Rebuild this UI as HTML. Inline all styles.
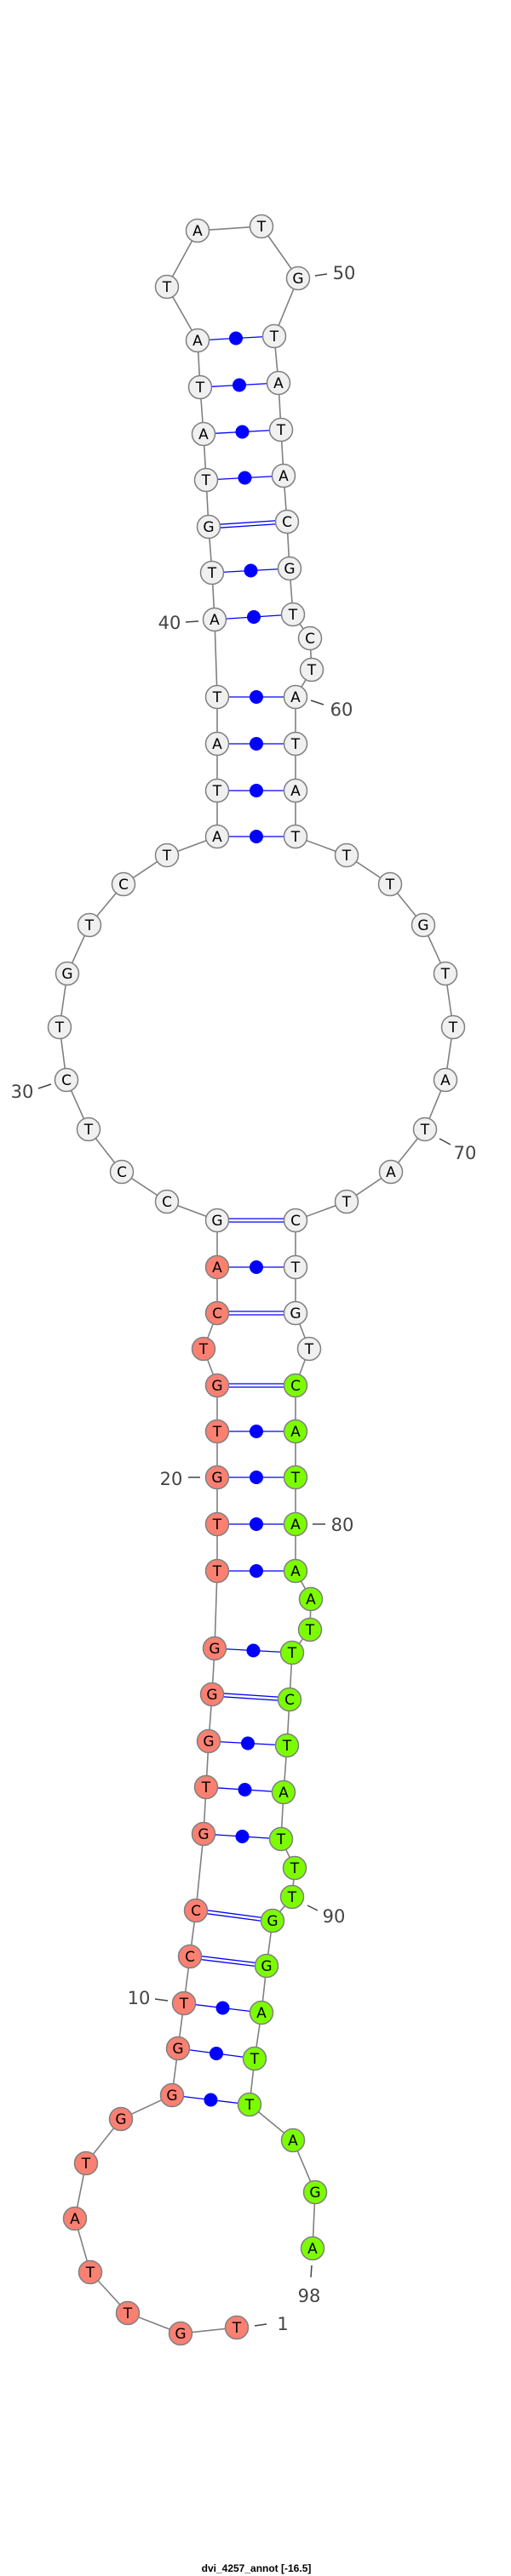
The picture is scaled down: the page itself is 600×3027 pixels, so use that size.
<!DOCTYPE html>
<html><head><meta charset="utf-8"><style>
html,body{margin:0;padding:0;background:#fff;}
svg{display:block;}
.n{stroke:#808080;stroke-width:1.5;}
.w{fill:#f0f0f0;}
.r{fill:#fa8072;}
.g{fill:#7cfc00;}
.t{font-family:"DejaVu Sans","Liberation Sans",sans-serif;font-size:17px;text-anchor:middle;fill:#000;}
.l{font-family:"DejaVu Sans","Liberation Sans",sans-serif;font-size:21px;text-anchor:middle;fill:#444;}
.p{stroke:#0000ff;stroke-width:1.3;fill:none;}
.d{fill:#0000ff;}
.k{stroke:#444;stroke-width:1.5;}
</style></head><body>
<svg width="600" height="3027" viewBox="0 0 600 3027" xmlns="http://www.w3.org/2000/svg">
<polyline fill="none" stroke="#808080" stroke-width="1.6" points="278,2735 212,2742 150,2718 106,2670 88,2607 101,2542 142,2490 202,2462 209,2407 216,2354 223,2299 230,2245 239,2155 242,2100 245,2046 249,1991 252,1937 255,1846 255,1791 255,1736 255,1682 255,1628 239,1585 255,1543 255,1489 255,1434 196,1412 143,1377 104,1327 78,1269 70,1207 79,1144 105,1087 145,1039 196,1005 255,983 255,929 255,874 255,819 252,728 249,673 245,619 242,564 239,510 235,455 232,400 196,337 232,271 307,266 350,327 322,395 327,450 330,505 333,559 337,613 340,668 344,722 364,750 366,787 347,819 347,874 347,929 347,983 407,1005 458,1039 497,1087 523,1144 532,1207 523,1269 499,1327 459,1377 407,1412 347,1434 347,1489 347,1543 363,1585 347,1628 347,1682 347,1736 347,1791 347,1846 365,1879 364,1915 343,1942 340,1997 337,2051 333,2106 330,2161 346,2195 343,2229 320,2257 313,2310 307,2365 299,2419 293,2473 344,2515 370,2576 367,2642"/>
<!-- single pairs -->
<g class="p">
<line x1="202" y1="2462" x2="293" y2="2473"/>
<line x1="209" y1="2407" x2="299" y2="2419"/>
<line x1="216" y1="2354" x2="307" y2="2365"/>
<line x1="239" y1="2155" x2="330" y2="2161"/>
<line x1="242" y1="2100" x2="333" y2="2106"/>
<line x1="245" y1="2046" x2="337" y2="2051"/>
<line x1="252" y1="1937" x2="343" y2="1942"/>
<line x1="255" y1="1846" x2="347" y2="1846"/>
<line x1="255" y1="1791" x2="347" y2="1791"/>
<line x1="255" y1="1736" x2="347" y2="1736"/>
<line x1="255" y1="1682" x2="347" y2="1682"/>
<line x1="255" y1="1489" x2="347" y2="1489"/>
<line x1="255" y1="983" x2="347" y2="983"/>
<line x1="255" y1="929" x2="347" y2="929"/>
<line x1="255" y1="874" x2="347" y2="874"/>
<line x1="255" y1="819" x2="347" y2="819"/>
<line x1="252" y1="728" x2="344" y2="722"/>
<line x1="249" y1="673" x2="340" y2="668"/>
<line x1="242" y1="564" x2="333" y2="559"/>
<line x1="239" y1="510" x2="330" y2="505"/>
<line x1="235" y1="455" x2="327" y2="450"/>
<line x1="232" y1="400" x2="322" y2="395"/>
<!-- double pairs -->
<line x1="223" y1="2297" x2="313" y2="2308"/><line x1="223" y1="2301" x2="313" y2="2312"/>
<line x1="230" y1="2243" x2="320" y2="2255"/><line x1="230" y1="2247" x2="320" y2="2259"/>
<line x1="249" y1="1989" x2="340" y2="1995"/><line x1="249" y1="1993" x2="340" y2="1999"/>
<line x1="255" y1="1626" x2="347" y2="1626"/><line x1="255" y1="1630" x2="347" y2="1630"/>
<line x1="255" y1="1541" x2="347" y2="1541"/><line x1="255" y1="1545" x2="347" y2="1545"/>
<line x1="255" y1="1432" x2="347" y2="1432"/><line x1="255" y1="1436" x2="347" y2="1436"/>
<line x1="245" y1="617" x2="337" y2="611"/><line x1="245" y1="621" x2="337" y2="615"/>
</g>
<g class="d">
<circle cx="247.5" cy="2467.5" r="8"/>
<circle cx="254" cy="2413" r="8"/>
<circle cx="261.5" cy="2359.5" r="8"/>
<circle cx="284.5" cy="2158" r="8"/>
<circle cx="287.5" cy="2103" r="8"/>
<circle cx="291" cy="2048.5" r="8"/>
<circle cx="297.5" cy="1939.5" r="8"/>
<circle cx="301" cy="1846" r="8"/>
<circle cx="301" cy="1791" r="8"/>
<circle cx="301" cy="1736" r="8"/>
<circle cx="301" cy="1682" r="8"/>
<circle cx="301" cy="1489" r="8"/>
<circle cx="301" cy="983" r="8"/>
<circle cx="301" cy="929" r="8"/>
<circle cx="301" cy="874" r="8"/>
<circle cx="301" cy="819" r="8"/>
<circle cx="298" cy="725" r="8"/>
<circle cx="294.5" cy="670.5" r="8"/>
<circle cx="287.5" cy="561.5" r="8"/>
<circle cx="284.5" cy="507.5" r="8"/>
<circle cx="281" cy="452.5" r="8"/>
<circle cx="277" cy="397.5" r="8"/>
</g>
<!-- nodes -->
<g class="n">
<circle class="r" cx="278" cy="2735" r="13.5"/><circle class="r" cx="212" cy="2742" r="13.5"/><circle class="r" cx="150" cy="2718" r="13.5"/><circle class="r" cx="106" cy="2670" r="13.5"/><circle class="r" cx="88" cy="2607" r="13.5"/><circle class="r" cx="101" cy="2542" r="13.5"/><circle class="r" cx="142" cy="2490" r="13.5"/><circle class="r" cx="202" cy="2462" r="13.5"/><circle class="r" cx="209" cy="2407" r="13.5"/><circle class="r" cx="216" cy="2354" r="13.5"/><circle class="r" cx="223" cy="2299" r="13.5"/><circle class="r" cx="230" cy="2245" r="13.5"/><circle class="r" cx="239" cy="2155" r="13.5"/><circle class="r" cx="242" cy="2100" r="13.5"/><circle class="r" cx="245" cy="2046" r="13.5"/><circle class="r" cx="249" cy="1991" r="13.5"/><circle class="r" cx="252" cy="1937" r="13.5"/><circle class="r" cx="255" cy="1846" r="13.5"/><circle class="r" cx="255" cy="1791" r="13.5"/><circle class="r" cx="255" cy="1736" r="13.5"/><circle class="r" cx="255" cy="1682" r="13.5"/><circle class="r" cx="255" cy="1628" r="13.5"/><circle class="r" cx="239" cy="1585" r="13.5"/><circle class="r" cx="255" cy="1543" r="13.5"/><circle class="r" cx="255" cy="1489" r="13.5"/>
<circle class="w" cx="255" cy="1434" r="13.5"/><circle class="w" cx="196" cy="1412" r="13.5"/><circle class="w" cx="143" cy="1377" r="13.5"/><circle class="w" cx="104" cy="1327" r="13.5"/><circle class="w" cx="78" cy="1269" r="13.5"/><circle class="w" cx="70" cy="1207" r="13.5"/><circle class="w" cx="79" cy="1144" r="13.5"/><circle class="w" cx="105" cy="1087" r="13.5"/><circle class="w" cx="145" cy="1039" r="13.5"/><circle class="w" cx="196" cy="1005" r="13.5"/><circle class="w" cx="255" cy="983" r="13.5"/><circle class="w" cx="255" cy="929" r="13.5"/><circle class="w" cx="255" cy="874" r="13.5"/><circle class="w" cx="255" cy="819" r="13.5"/><circle class="w" cx="252" cy="728" r="13.5"/><circle class="w" cx="249" cy="673" r="13.5"/><circle class="w" cx="245" cy="619" r="13.5"/><circle class="w" cx="242" cy="564" r="13.5"/><circle class="w" cx="239" cy="510" r="13.5"/><circle class="w" cx="235" cy="455" r="13.5"/><circle class="w" cx="232" cy="400" r="13.5"/><circle class="w" cx="196" cy="337" r="13.5"/><circle class="w" cx="232" cy="271" r="13.5"/><circle class="w" cx="307" cy="266" r="13.5"/><circle class="w" cx="350" cy="327" r="13.5"/><circle class="w" cx="322" cy="395" r="13.5"/><circle class="w" cx="327" cy="450" r="13.5"/><circle class="w" cx="330" cy="505" r="13.5"/><circle class="w" cx="333" cy="559" r="13.5"/><circle class="w" cx="337" cy="613" r="13.5"/><circle class="w" cx="340" cy="668" r="13.5"/><circle class="w" cx="344" cy="722" r="13.5"/><circle class="w" cx="364" cy="750" r="13.5"/><circle class="w" cx="366" cy="787" r="13.5"/><circle class="w" cx="347" cy="819" r="13.5"/><circle class="w" cx="347" cy="874" r="13.5"/><circle class="w" cx="347" cy="929" r="13.5"/><circle class="w" cx="347" cy="983" r="13.5"/><circle class="w" cx="407" cy="1005" r="13.5"/><circle class="w" cx="458" cy="1039" r="13.5"/><circle class="w" cx="497" cy="1087" r="13.5"/><circle class="w" cx="523" cy="1144" r="13.5"/><circle class="w" cx="532" cy="1207" r="13.5"/><circle class="w" cx="523" cy="1269" r="13.5"/><circle class="w" cx="499" cy="1327" r="13.5"/><circle class="w" cx="459" cy="1377" r="13.5"/><circle class="w" cx="407" cy="1412" r="13.5"/><circle class="w" cx="347" cy="1434" r="13.5"/><circle class="w" cx="347" cy="1489" r="13.5"/><circle class="w" cx="347" cy="1543" r="13.5"/><circle class="w" cx="363" cy="1585" r="13.5"/>
<circle class="g" cx="347" cy="1628" r="13.5"/><circle class="g" cx="347" cy="1682" r="13.5"/><circle class="g" cx="347" cy="1736" r="13.5"/><circle class="g" cx="347" cy="1791" r="13.5"/><circle class="g" cx="347" cy="1846" r="13.5"/><circle class="g" cx="365" cy="1879" r="13.5"/><circle class="g" cx="364" cy="1915" r="13.5"/><circle class="g" cx="343" cy="1942" r="13.5"/><circle class="g" cx="340" cy="1997" r="13.5"/><circle class="g" cx="337" cy="2051" r="13.5"/><circle class="g" cx="333" cy="2106" r="13.5"/><circle class="g" cx="330" cy="2161" r="13.5"/><circle class="g" cx="346" cy="2195" r="13.5"/><circle class="g" cx="343" cy="2229" r="13.5"/><circle class="g" cx="320" cy="2257" r="13.5"/><circle class="g" cx="313" cy="2310" r="13.5"/><circle class="g" cx="307" cy="2365" r="13.5"/><circle class="g" cx="299" cy="2419" r="13.5"/><circle class="g" cx="293" cy="2473" r="13.5"/><circle class="g" cx="344" cy="2515" r="13.5"/><circle class="g" cx="370" cy="2576" r="13.5"/><circle class="g" cx="367" cy="2642" r="13.5"/>
</g>
<g class="t">
<text x="278" y="2741">T</text><text x="212" y="2748">G</text><text x="150" y="2724">T</text><text x="106" y="2676">T</text><text x="88" y="2613">A</text><text x="101" y="2548">T</text><text x="142" y="2496">G</text><text x="202" y="2468">G</text><text x="209" y="2413">G</text><text x="216" y="2360">T</text><text x="223" y="2305">C</text><text x="230" y="2251">C</text><text x="239" y="2161">G</text><text x="242" y="2106">T</text><text x="245" y="2052">G</text><text x="249" y="1997">G</text><text x="252" y="1943">G</text><text x="255" y="1852">T</text><text x="255" y="1797">T</text><text x="255" y="1742">G</text><text x="255" y="1688">T</text><text x="255" y="1634">G</text><text x="239" y="1591">T</text><text x="255" y="1549">C</text><text x="255" y="1495">A</text>
<text x="255" y="1440">G</text><text x="196" y="1418">C</text><text x="143" y="1383">C</text><text x="104" y="1333">T</text><text x="78" y="1275">C</text><text x="70" y="1213">T</text><text x="79" y="1150">G</text><text x="105" y="1093">T</text><text x="145" y="1045">C</text><text x="196" y="1011">T</text><text x="255" y="989">A</text><text x="255" y="935">T</text><text x="255" y="880">A</text><text x="255" y="825">T</text><text x="252" y="734">A</text><text x="249" y="679">T</text><text x="245" y="625">G</text><text x="242" y="570">T</text><text x="239" y="516">A</text><text x="235" y="461">T</text><text x="232" y="406">A</text><text x="196" y="343">T</text><text x="232" y="277">A</text><text x="307" y="272">T</text><text x="350" y="333">G</text><text x="322" y="401">T</text><text x="327" y="456">A</text><text x="330" y="511">T</text><text x="333" y="565">A</text><text x="337" y="619">C</text><text x="340" y="674">G</text><text x="344" y="728">T</text><text x="364" y="756">C</text><text x="366" y="793">T</text><text x="347" y="825">A</text><text x="347" y="880">T</text><text x="347" y="935">A</text><text x="347" y="989">T</text><text x="407" y="1011">T</text><text x="458" y="1045">T</text><text x="497" y="1093">G</text><text x="523" y="1150">T</text><text x="532" y="1213">T</text><text x="523" y="1275">A</text><text x="499" y="1333">T</text><text x="459" y="1383">A</text><text x="407" y="1418">T</text><text x="347" y="1440">C</text><text x="347" y="1495">T</text><text x="347" y="1549">G</text><text x="363" y="1591">T</text>
<text x="347" y="1634">C</text><text x="347" y="1688">A</text><text x="347" y="1742">T</text><text x="347" y="1797">A</text><text x="347" y="1852">A</text><text x="365" y="1885">A</text><text x="364" y="1921">T</text><text x="343" y="1948">T</text><text x="340" y="2003">C</text><text x="337" y="2057">T</text><text x="333" y="2112">A</text><text x="330" y="2167">T</text><text x="346" y="2201">T</text><text x="343" y="2235">T</text><text x="320" y="2263">G</text><text x="313" y="2316">G</text><text x="307" y="2371">A</text><text x="299" y="2425">T</text><text x="293" y="2479">T</text><text x="344" y="2521">A</text><text x="370" y="2582">G</text><text x="367" y="2648">A</text>
</g>
<g class="k">
<line x1="370" y1="324" x2="384" y2="322"/>
<line x1="218" y1="731" x2="233" y2="730"/>
<line x1="365" y1="823" x2="380" y2="828"/>
<line x1="45" y1="1279" x2="60" y2="1274"/>
<line x1="516" y1="1338" x2="529" y2="1345"/>
<line x1="221" y1="1736" x2="235" y2="1736"/>
<line x1="367" y1="1791" x2="382" y2="1791"/>
<line x1="361" y1="2239" x2="373" y2="2245"/>
<line x1="182" y1="2349" x2="197" y2="2351"/>
<line x1="366" y1="2662" x2="365" y2="2676"/>
<line x1="299" y1="2733" x2="313" y2="2731"/>
</g>
<g class="l">
<text x="404" y="328">50</text>
<text x="199" y="739">40</text>
<text x="401" y="841">60</text>
<text x="26" y="1290">30</text>
<text x="546" y="1362">70</text>
<text x="201" y="1745">20</text>
<text x="402" y="1799">80</text>
<text x="392" y="2259">90</text>
<text x="163" y="2355">10</text>
<text x="363" y="2705">98</text>
<text x="332" y="2738">1</text>
</g>
<text x="301" y="3022" style="font-family:'Liberation Sans',sans-serif;font-size:12px;font-weight:bold;text-anchor:middle;fill:#000;">dvi_4257_annot [-16.5]</text>
</svg>
</body></html>
